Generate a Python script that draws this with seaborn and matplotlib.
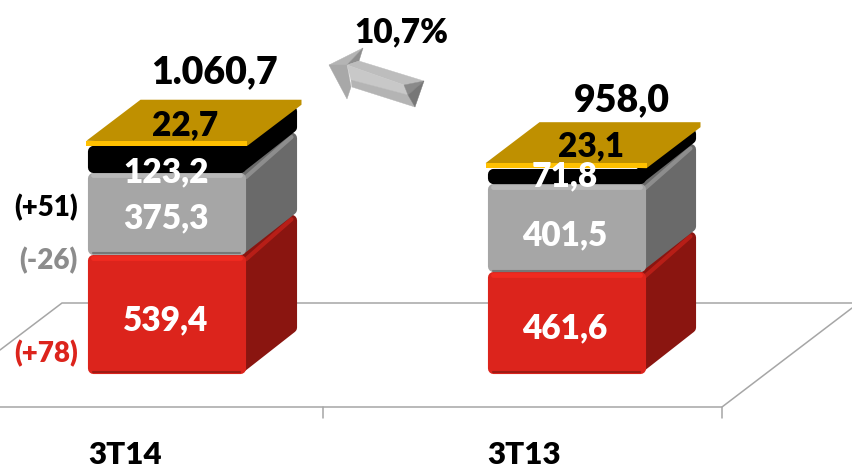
# 3T14 vs 3T13 stacked bars with a fake 3D look
import matplotlib
matplotlib.use("Agg")
import matplotlib.pyplot as plt
from matplotlib.patches import Polygon
import seaborn as sns

# DATA
periods = ["3T14", "3T13"]
red_values = [539.4, 461.6]
grey_values = [375.3, 401.5]
black_values = [123.2, 71.8]
gold_values = [22.7, 23.1]
totals = [1060.7, 958.0]
change_labels = ["(+51)", "(-26)", "(+78)"]
growth_label = "10,7%"

W, H = 852, 468
PX_X = 399.0   # pixels per category
PX_Y = 0.219   # pixels per unit
X0, Y0 = 167, 373  # pixel position of first category / of zero


def px(x, y):
    # picture pixels to data coordinates, only for decoration
    return (x - X0) / PX_X, (Y0 - y) / PX_Y


sns.set_theme(style="white")
plt.rcParams["font.family"] = ["Lato", "DejaVu Sans"]
plt.rcParams["font.weight"] = "heavy"

fig = plt.figure(figsize=(W / 100, H / 100), dpi=100)
ax = fig.add_axes([0, 0, 1, 1])

# (colour of front, side, top bevel, bottom shadow)
layers = [
    (red_values, "#DC241C", "#8A1510", "#F02A20", "#9E1C15"),
    (grey_values, "#A6A6A6", "#6A6A6A", "#B8B8B8", "#777777"),
    (black_values, "#000000", "#000000", "#000000", "#000000"),
]

BAR_W = 158 / PX_X
DEPTH_X = 51 / PX_X
DEPTH_Y = 40 / PX_Y
EDGE_LW = 8
ROUND_X = 5.5 / PX_X
ROUND_Y = 5.5 / PX_Y

bottoms = [0.0, 0.0]
z = 3
for values, front, side, light, dark in layers:
    n_before = len(ax.patches)
    sns.barplot(x=periods, y=values, order=periods, bottom=bottoms, width=BAR_W, color=front,
                saturation=1, ax=ax, zorder=z + 1, linewidth=EDGE_LW, edgecolor=front)
    for i, bar in enumerate(ax.patches[n_before:]):
        x0, x1 = bar.get_x(), bar.get_x() + bar.get_width()
        y0, y1 = bar.get_y(), bar.get_y() + bar.get_height()
        bar.set_x(x0 + ROUND_X)
        bar.set_width(x1 - x0 - 2 * ROUND_X)
        bar.set_y(y0 + ROUND_Y)
        bar.set_height(y1 - y0 - 2 * ROUND_Y)
        bar.set_joinstyle("round")
        pts = [(x1 - ROUND_X, y0 + ROUND_Y),
               (x1 + DEPTH_X - ROUND_X, y0 + DEPTH_Y + ROUND_Y),
               (x1 + DEPTH_X - ROUND_X, y1 + DEPTH_Y - ROUND_Y),
               (x1 - ROUND_X, y1 - ROUND_Y)]
        ax.add_patch(Polygon(pts, closed=True, facecolor=side, edgecolor=side, lw=EDGE_LW,
                             joinstyle="round", zorder=z))
        # bevels
        ax.plot([x1, x1 + DEPTH_X - ROUND_X], [y1 - 0.8 * ROUND_Y, y1 + DEPTH_Y - 0.8 * ROUND_Y],
                color=light if front != "#000000" else side, lw=3, alpha=0.45, zorder=z, solid_capstyle="round")
        ax.plot([x0 + ROUND_X, x1 - ROUND_X], [y1 - 0.5 * ROUND_Y] * 2, color=light, lw=3.5, zorder=z + 1,
                solid_capstyle="round")
        ax.plot([x0 + ROUND_X, x1 - ROUND_X], [y0 + 0.25 * ROUND_Y] * 2, color=dark, lw=1.5, zorder=z + 1,
                solid_capstyle="round")
    bottoms = [b + v for b, v in zip(bottoms, values)]
    z += 2

# gold lid, thin bar and flat top
n_before = len(ax.patches)
sns.barplot(x=periods, y=gold_values, order=periods, bottom=bottoms, width=161 / PX_X, color="#FFC000",
            saturation=1, ax=ax, zorder=z + 1, linewidth=0)
LID_X = 54 / PX_X
LID_Y = 41 / PX_Y
for bar in ax.patches[n_before:]:
    x0, x1 = bar.get_x(), bar.get_x() + bar.get_width()
    y0, y1 = bar.get_y(), bar.get_y() + bar.get_height()
    ax.add_patch(Polygon([(x0, y1), (x1, y0), (x1 + LID_X, y1 + LID_Y - 5 / PX_Y), (x1 + LID_X, y1 + LID_Y), (x0 + LID_X, y1 + LID_Y)],
                         closed=True, facecolor="#BF9000", edgecolor="none", zorder=z))
    bar.set_zorder(z + 1)

# floor lines
floor_c = "#A6A6A6"
for seg in [[(0, 407), (722, 407), (852, 308)], [(0, 350), (62, 303), (852, 303)], [(323, 407), (323, 418)], [(722, 407), (722, 418)]]:
    pts = [px(*p) for p in seg]
    ax.plot([p[0] for p in pts], [p[1] for p in pts], color=floor_c, lw=1.1, zorder=1, solid_joinstyle="miter")


def num(v):
    return f"{v:,.1f}".replace(",", "X").replace(".", ",").replace("X", ".")


# value labels, nudged in pixels like in the picture
nudges = {"red": [-3, -3], "grey": [-2, -4], "black": [-10, 3], "gold": [-3, -5]}
bottoms = [0.0, 0.0]
for name, values, col in [("red", red_values, "white"), ("grey", grey_values, "white"),
                          ("black", black_values, "white")]:
    for i, v in enumerate(values):
        mid = bottoms[i] + v / 2 + nudges[name][i] / PX_Y
        ax.text(i - 1 / PX_X, mid, num(v), color=col, fontsize=24, ha="center", va="center_baseline", zorder=60)
    bottoms = [b + v for b, v in zip(bottoms, values)]
gold_y = [122, 143]
for i, v in enumerate(gold_values):
    ax.text(i + (18 if i == 0 else 25) / PX_X, px(0, gold_y[i])[1], num(v), color="black", fontsize=24,
            ha="center", va="center_baseline", zorder=60)

# totals
total_dx = [48, 56]
total_y = [69, 97]
for i, v in enumerate(totals):
    ax.text(i + total_dx[i] / PX_X, px(0, total_y[i])[1], num(v), color="black", fontsize=27,
            ha="center", va="center_baseline", zorder=60)

# category names
for i, name in enumerate(periods):
    ax.text(i - 42 / PX_X, px(0, 453)[1], name, color="black", fontsize=22.5, ha="center", va="center_baseline")

# changes on the left
for lab, col, y in zip(change_labels, ["#000000", "#8C8C8C", "#DC241C"], [205, 258, 351]):
    ax.text(px(78, 0)[0], px(0, y)[1], lab, color=col, fontsize=20, ha="right", va="center_baseline", zorder=60)

ax.text(*px(401, 29), growth_label, color="black", fontsize=24, ha="center", va="center_baseline")

# arrow, a few flat facets
facets = [
    ([(329, 65), (363, 48), (347, 65)], "#B4B4B4"),
    ([(363, 48), (359, 61), (347, 65)], "#8E8E8E"),
    ([(329, 65), (347, 65), (351, 87), (347, 99)], "#A8A8A8"),
    ([(347, 65), (359, 61), (424, 81), (404, 85)], "#BDBDBD"),
    ([(347, 65), (404, 85), (408, 95), (351, 80)], "#C8C8C8"),
    ([(351, 80), (408, 95), (415, 107), (352, 87)], "#B4B4B4"),
    ([(424, 81), (404, 85), (408, 95)], "#8A8A8A"),
    ([(424, 81), (408, 95), (415, 107)], "#777777"),
]
for pts, col in facets:
    ax.add_patch(Polygon([px(*p) for p in pts], closed=True, facecolor=col, edgecolor=col, lw=0.3, zorder=40))

ax.set_xlim(-X0 / PX_X, (W - X0) / PX_X)
ax.set_ylim((Y0 - H) / PX_Y, Y0 / PX_Y)
ax.axis("off")
fig.savefig("out.png", dpi=100, facecolor="white")
